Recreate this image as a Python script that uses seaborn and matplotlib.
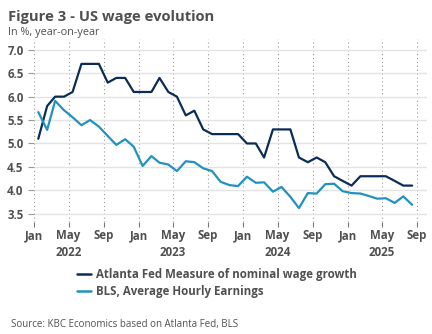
import numpy as np
import pandas as pd
import matplotlib
matplotlib.use("Agg")
import matplotlib.pyplot as plt
import matplotlib.dates as mdates
import matplotlib.transforms as mtransforms
import seaborn as sns

# ---- data ----
start_month = "2022-01-01"
n_months = 44
atlanta = [5.1, 5.8, 6.0, 6.0, 6.1, 6.7, 6.7, 6.7, 6.3, 6.4, 6.4, 6.1,
           6.1, 6.1, 6.4, 6.1, 6.0, 5.6, 5.7, 5.3, 5.2, 5.2, 5.2, 5.2,
           5.0, 5.0, 4.7, 5.3, 5.3, 5.3, 4.7, 4.6, 4.7, 4.6, 4.3, 4.2,
           4.1, 4.3, 4.3, 4.3, 4.3, 4.2, 4.1, 4.1]
bls = [5.67, 5.29, 5.91, 5.71, 5.56, 5.39, 5.50, 5.36, 5.16, 4.97, 5.09, 4.93,
       4.52, 4.73, 4.59, 4.55, 4.41, 4.62, 4.60, 4.47, 4.41, 4.18, 4.11, 4.09,
       4.29, 4.16, 4.17, 3.97, 4.07, 3.86, 3.62, 3.94, 3.93, 4.13, 4.14, 3.98,
       3.94, 3.93, 3.88, 3.82, 3.83, 3.73, 3.87, 3.69]
series_names = ["Atlanta Fed Measure of nominal wage growth",
                "BLS, Average Hourly Earnings"]
yticks = [3.5, 4.0, 4.5, 5.0, 5.5, 6.0, 6.5, 7.0]
year_labels = ["2022", "2023", "2024", "2025"]

dates = pd.date_range(start_month, periods=n_months, freq="MS") + pd.Timedelta(days=14)
df = pd.concat([
    pd.DataFrame({"date": dates, "value": atlanta, "series": series_names[0]}),
    pd.DataFrame({"date": dates, "value": bls, "series": series_names[1]}),
])

# ---- style ----
sns.set_style("white")
plt.rcParams["font.family"] = ["Open Sans", "DejaVu Sans"]
txt = "#505050"
navy = "#0b2c57"
blue = "#2192c0"

fig = plt.figure(figsize=(4.32, 3.34), dpi=100)
ax = fig.add_axes([34 / 432, 0.335, 393 / 432, 0.548])

sns.lineplot(data=df, x="date", y="value", hue="series",
             palette=[navy, blue], linewidth=1.6, ax=ax)

ax.set_ylim(3.32, 7.23)
ax.set_xlim(pd.Timestamp("2021-12-31"), pd.Timestamp("2025-10-06"))
ax.set_yticks(yticks)
ax.set_yticklabels([f"{v:.1f}" for v in yticks])
ax.yaxis.grid(True, color="#e3e3e3", linewidth=1.0, linestyle="-")
ax.xaxis.set_major_locator(mdates.MonthLocator(bymonth=[1, 5, 9]))
ax.xaxis.set_major_formatter(mdates.DateFormatter("%b"))
ax.xaxis.grid(True, color="#9a9a9a", linewidth=0.8, linestyle=(0, (1, 2.5)))
ax.set_axisbelow(True)
for s in ax.spines.values():
    s.set_visible(False)
ax.tick_params(axis="x", length=3.5, width=0.8, color="#777777", pad=1.5,
               labelsize=8.3, labelcolor=txt, direction="out", bottom=True)
ax.tick_params(axis="y", length=4, width=0.8, color="#999999", pad=3.5,
               labelsize=8.3, labelcolor=txt, left=True)
for lab in ax.get_xticklabels() + ax.get_yticklabels():
    lab.set_fontweight("bold")
ax.set_xlabel("")
ax.set_ylabel("")

# year labels
trans = mtransforms.blended_transform_factory(ax.transData, fig.transFigure)
for y in year_labels:
    ax.text(mdates.date2num(pd.Timestamp(f"{y}-05-01")), 1 - 252 / 334, y,
            transform=trans, ha="center", va="center", fontsize=8.3,
            fontweight="bold", color=txt)

# legend
leg = ax.get_legend()
handles = leg.legend_handles
leg.remove()
leg = fig.legend(handles, series_names, loc="upper left",
                 bbox_to_anchor=(0.178, 1 - 268 / 334), bbox_transform=fig.transFigure,
                 frameon=False, fontsize=8.3, handlelength=1.25, handletextpad=0.4,
                 labelspacing=0.35, borderpad=0, borderaxespad=0)
for t in leg.get_texts():
    t.set_color(txt)
    t.set_fontweight("bold")
for h in leg.legend_handles:
    h.set_linewidth(1.8)

# title etc.
fig.text(8 / 432, 1 - 17 / 334, "Figure 3 - US wage evolution", fontsize=10.6,
         fontweight="bold", color=txt, ha="left", va="center")
fig.text(8 / 432, 1 - 33 / 334, "In %, year-on-year", fontsize=7.8,
         color=txt, ha="left", va="center")
fig.text(11 / 432, 1 - 324 / 334, "Source: KBC Economics based on Atlanta Fed, BLS",
         fontsize=7.0, color=txt, ha="left", va="center")

fig.savefig("out.png", dpi=100)
